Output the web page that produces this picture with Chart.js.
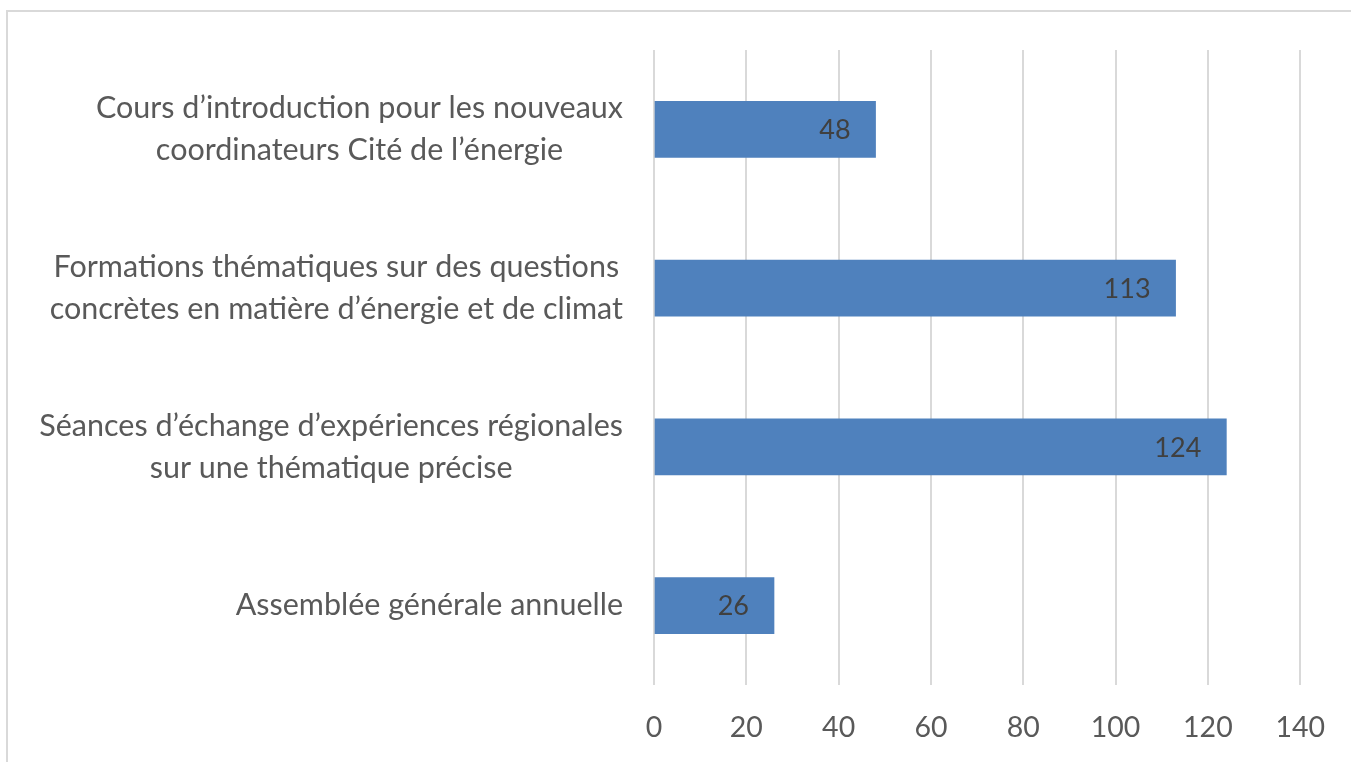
<!DOCTYPE html>
<html>
<head>
<meta charset="utf-8">
<script src="https://cdn.jsdelivr.net/npm/chart.js@4"></script>
<style>
  html, body { margin: 0; padding: 0; background: #fff; }
  #wrap { width: 1351px; height: 762px; position: relative; }
</style>
</head>
<body>
<div id="wrap"><canvas id="chart" width="1351" height="762"></canvas></div>
<script>
const categories = [
    ["Cours d\u2019introduction pour les nouveaux", "coordinateurs Cit\u00e9 de l\u2019\u00e9nergie"],
    ["Formations th\u00e9matiques sur des questions", "concr\u00e8tes en mati\u00e8re d\u2019\u00e9nergie et de climat"],
    ["S\u00e9ances d\u2019\u00e9change d\u2019exp\u00e9riences r\u00e9gionales", "sur une th\u00e9matique pr\u00e9cise"],
    ["Assembl\u00e9e g\u00e9n\u00e9rale annuelle"]
];
const participants = [48, 113, 124, 26];
const xTicks = [0, 20, 40, 60, 80, 100, 120, 140];

const fontFamily = "Lato, 'Open Sans', sans-serif";

// frame around the chart
const framePlugin = {
    id: 'frame',
    beforeDraw(chart) {
        const ctx = chart.ctx;
        ctx.save();
        ctx.fillStyle = '#ffffff';
        ctx.fillRect(0, 0, chart.width, chart.height);
        ctx.strokeStyle = '#d9d9d9';
        ctx.lineWidth = 2;
        ctx.strokeRect(7, 11, chart.width + 20, chart.height + 20);
        ctx.restore();
    }
};

// category labels: block right-aligned, lines centred inside the block
const categoryLabels = {
    id: 'categoryLabels',
    afterDraw(chart) {
        const ctx = chart.ctx;
        const y = chart.scales.y;
        const right = y.right - 31;
        const lineH = 42;
        ctx.save();
        ctx.font = "30.5px " + fontFamily;
        ctx.fillStyle = '#595959';
        ctx.textAlign = 'center';
        ctx.textBaseline = 'middle';
        categories.forEach((lines, i) => {
            const cy = y.getPixelForTick(i);
            const w = Math.max(...lines.map(l => ctx.measureText(l).width));
            const cx = right - w / 2;
            const top = cy - (lines.length - 1) * lineH / 2;
            lines.forEach((l, j) => ctx.fillText(l, cx, top + j * lineH));
        });
        ctx.restore();
    }
};

// value labels inside the end of each bar
const valueLabels = {
    id: 'valueLabels',
    afterDatasetsDraw(chart) {
        const ctx = chart.ctx;
        const meta = chart.getDatasetMeta(0);
        ctx.save();
        ctx.font = "27px " + fontFamily;
        ctx.fillStyle = '#404040';
        ctx.textAlign = 'right';
        ctx.textBaseline = 'middle';
        meta.data.forEach((bar, i) => {
            ctx.fillText(String(participants[i]), bar.x - 25, bar.y + 1);
        });
        ctx.restore();
    }
};

new Chart(document.getElementById('chart'), {
    type: 'bar',
    data: {
        labels: categories,
        datasets: [{
            data: participants,
            backgroundColor: '#4f81bd',
            borderWidth: 0,
            barThickness: 56
        }]
    },
    options: {
        indexAxis: 'y',
        responsive: false,
        animation: false,
        layout: { padding: { top: 50, right: 50, left: 0, bottom: 0 } },
        plugins: {
            legend: { display: false },
            tooltip: { enabled: false }
        },
        scales: {
            x: {
                min: 0,
                max: 140,
                afterBuildTicks: s => { s.ticks = xTicks.map(v => ({ value: v })); },
                afterFit: s => { s.height = 77; },
                grid: { color: '#d9d9d9', lineWidth: 2, drawTicks: false },
                border: { display: false },
                ticks: {
                    padding: 26,
                    color: '#595959',
                    font: { family: fontFamily, size: 28.5 }
                }
            },
            y: {
                afterFit: s => { s.width = 654; },
                grid: { display: false, drawTicks: false },
                border: { display: false },
                ticks: { display: false }
            }
        }
    },
    plugins: [framePlugin, valueLabels, categoryLabels]
});
</script>
</body>
</html>
